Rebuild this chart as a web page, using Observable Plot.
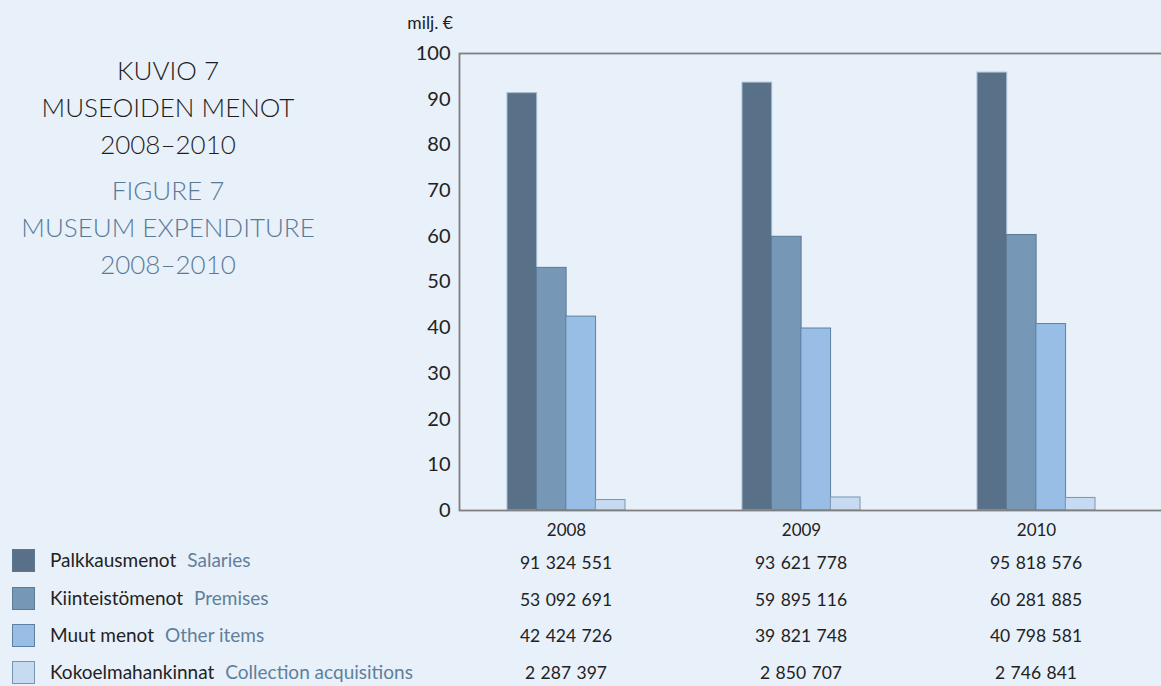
<!DOCTYPE html>
<html>
<head>
<meta charset="utf-8">
<script src="https://cdn.jsdelivr.net/npm/d3@7"></script>
<script src="https://cdn.jsdelivr.net/npm/@observablehq/plot@0.6"></script>
<style>
  html, body { margin: 0; padding: 0; background: #e8f0fa; }
  #wrap { position: relative; width: 1161px; height: 686px; background: #e8f0fa; overflow: hidden; font-family: Lato, "Noto Sans", sans-serif; color: #222; }
  #chart { position: absolute; left: 0; top: 0; }
  #chart svg [aria-label^="y-axis"] text { font-size: 20px; }
  .title { position: absolute; left: 0; width: 336px; text-align: center; font-size: 26px; line-height: 37px; font-weight: 300; }
  .t1 { top: 52px; color: #1e1e1e; }
  .t2 { top: 172px; color: #5a7b98; }
  .abs { position: absolute; white-space: nowrap; }
  .sq { position: absolute; width: 21px; height: 21px; border: 1px solid; }
  .lg { font-size: 19px; line-height: 24px; }
  .en { color: #5f7f9b; margin-left: 11px; }
  .num { font-size: 17.5px; line-height: 24px; word-spacing: 1px; transform: translateX(-50%); }
</style>
</head>
<body>
<div id="wrap">
  <div class="title t1">KUVIO 7<br>MUSEOIDEN MENOT<br>2008–2010</div>
  <div class="title t2">FIGURE 7<br>MUSEUM EXPENDITURE<br>2008–2010</div>
  <div class="abs" style="right:708px;top:11px;font-size:17.5px;line-height:24px;">milj. €</div>
  <div id="chart"></div>
</div>
<script>
// ---- data ----
const years = ["2008", "2009", "2010"];
const seriesFi = ["Palkkausmenot", "Kiinteistömenot", "Muut menot", "Kokoelmahankinnat"];
const seriesEn = ["Salaries", "Premises", "Other items", "Collection acquisitions"];
const salaries = [91324551, 93621778, 95818576];
const premises = [53092691, 59895116, 60281885];
const otherItems = [42424726, 39821748, 40798581];
const collection = [2287397, 2850707, 2746841];
const yTicks = [0, 10, 20, 30, 40, 50, 60, 70, 80, 90, 100];
const fills = ["#587189", "#7697b6", "#98bee6", "#c6dbf1"];
const strokes = ["#a7bacd", "#5d7a96", "#5f80a2", "#7a95ae"];

const seriesValues = [salaries, premises, otherItems, collection];
const rows = [];
seriesValues.forEach((vals, s) => vals.forEach((v, i) => rows.push({year: years[i], s, value: v / 1e6, raw: v})));

// ---- layout ----
const W = 1161, H = 545;
const mL = 459, mT = 53, mB = 35;
const xRange = [459, 1142], pIn = 0.5, pOut = 0.2;
const step = (xRange[1] - xRange[0]) / (years.length - pIn + 2 * pOut);
const bw = step * (1 - pIn);
const sub = bw / seriesFi.length;

const marks = seriesFi.map((name, s) =>
  Plot.barY(rows.filter(d => d.s === s), {
    x: "year", y: "value",
    fill: fills[s], stroke: strokes[s], strokeWidth: 1,
    insetLeft: s * sub, insetRight: (seriesFi.length - 1 - s) * sub
  })
);
marks.push(Plot.frame({stroke: "#7f7f80", strokeWidth: 1.8, insetRight: -5}));

const chart = Plot.plot({
  width: W, height: H,
  marginLeft: mL, marginRight: 0, marginTop: mT, marginBottom: mB,
  style: {background: "transparent", fontFamily: "Lato, 'Noto Sans', sans-serif", fontSize: "17px", color: "#222", overflow: "visible"},
  x: {domain: years, range: xRange, paddingInner: pIn, paddingOuter: pOut, align: 0.5, tickSize: 0, tickPadding: 13, label: null},
  y: {domain: [0, 100], ticks: yTicks, tickSize: 0, tickPadding: 9, label: null},
  marks
});
document.getElementById("chart").appendChild(chart);

// ---- legend ----
const wrap = document.getElementById("wrap");
const legendY = [560, 598, 635, 672];
seriesFi.forEach((name, s) => {
  const sq = document.createElement("div");
  sq.className = "sq";
  sq.style.left = "12px"; sq.style.top = (legendY[s] - 11) + "px";
  sq.style.background = fills[s]; sq.style.borderColor = s === 0 ? "#5d7690" : strokes[s];
  wrap.appendChild(sq);
  const t = document.createElement("div");
  t.className = "abs lg";
  t.style.left = "50px"; t.style.top = (legendY[s] - 12) + "px";
  t.innerHTML = name + '<span class="en">' + seriesEn[s] + '</span>';
  wrap.appendChild(t);
});

// ---- value table ----
const fmt = d3.formatLocale({decimal: ",", thousands: " ", grouping: [3], currency: ["", " €"]}).format(",d");
const xs = chart.scale("x");
const tableY = [563, 600, 636, 673];
seriesValues.forEach((vals, s) => {
  vals.forEach((v, i) => {
    const cx = xs.apply(years[i]) + xs.bandwidth / 2;
    const t = document.createElement("div");
    t.className = "abs num";
    t.style.left = cx + "px"; t.style.top = (tableY[s] - 12) + "px";
    t.textContent = fmt(v);
    wrap.appendChild(t);
  });
});
</script>
</body>
</html>
